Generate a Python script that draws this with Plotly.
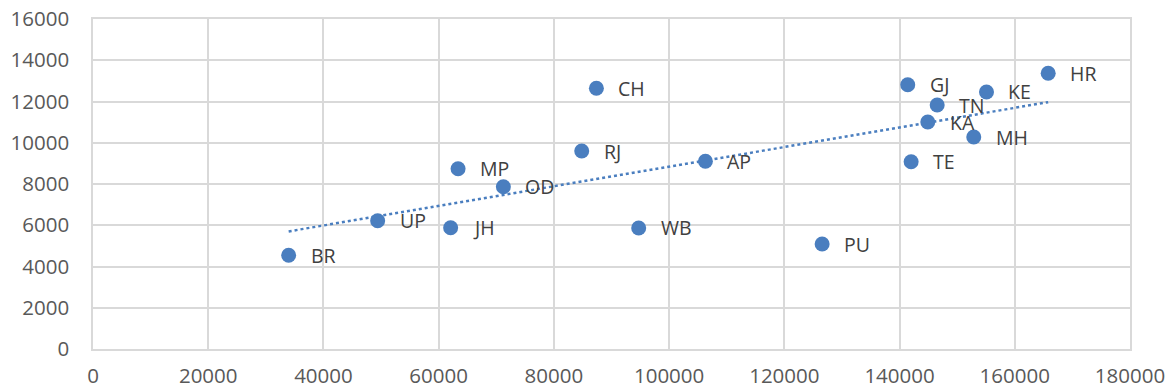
import numpy as np
import plotly.graph_objects as go

states = ["BR", "UP", "JH", "MP", "OD", "RJ", "CH", "WB", "AP", "PU",
          "GJ", "TE", "TN", "KA", "MH", "KE", "HR"]
x_vals = [33960, 49410, 62080, 63370, 71230, 84830, 87380, 94720, 106300, 126560,
          141420, 142010, 146530, 144900, 152880, 155090, 165800]
y_vals = [4543, 6221, 5882, 8742, 7870, 9600, 12640, 5867, 9100, 5091,
          12815, 9082, 11830, 11006, 10279, 12461, 13367]

color = "#4a7ebf"
grid = "#d9d9d9"
font_family = "Open Sans, Liberation Sans, sans-serif"

# Linear trendline
m, b = np.polyfit(x_vals, y_vals, 1)
tx = [min(x_vals), max(x_vals)]
ty = [m * v + b for v in tx]

fig = go.Figure()
fig.add_trace(go.Scatter(x=tx, y=ty, mode="lines",
                         line=dict(color=color, width=2.5, dash="dot"),
                         hoverinfo="skip", showlegend=False))
fig.add_trace(go.Scatter(x=x_vals, y=y_vals, mode="markers",
                         marker=dict(color=color, size=15),
                         text=states, showlegend=False))

for s, xv, yv in zip(states, x_vals, y_vals):
    fig.add_annotation(x=xv, y=yv, text=s, showarrow=False,
                       xanchor="left", yanchor="middle", xshift=20,
                       font=dict(size=19.5, color="#404040", family=font_family))

axis_common = dict(showgrid=True, gridcolor=grid, gridwidth=1.5,
                   zeroline=False, showline=True, linecolor=grid, linewidth=1.5,
                   mirror=True, automargin=False, tickformat="d",
                   tickfont=dict(size=20.5, color="#595959", family=font_family))

fig.update_xaxes(range=[0, 180000], dtick=20000, tick0=0, ticklabelstandoff=8,
                 **axis_common)
fig.update_yaxes(range=[0, 16000], dtick=2000, tick0=0, ticklabelstandoff=18,
                 **axis_common)

fig.update_layout(width=1171, height=391, paper_bgcolor="white", plot_bgcolor="white",
                  margin=dict(l=93, r=41, t=19, b=42), showlegend=False)

fig.write_html("out.html")
